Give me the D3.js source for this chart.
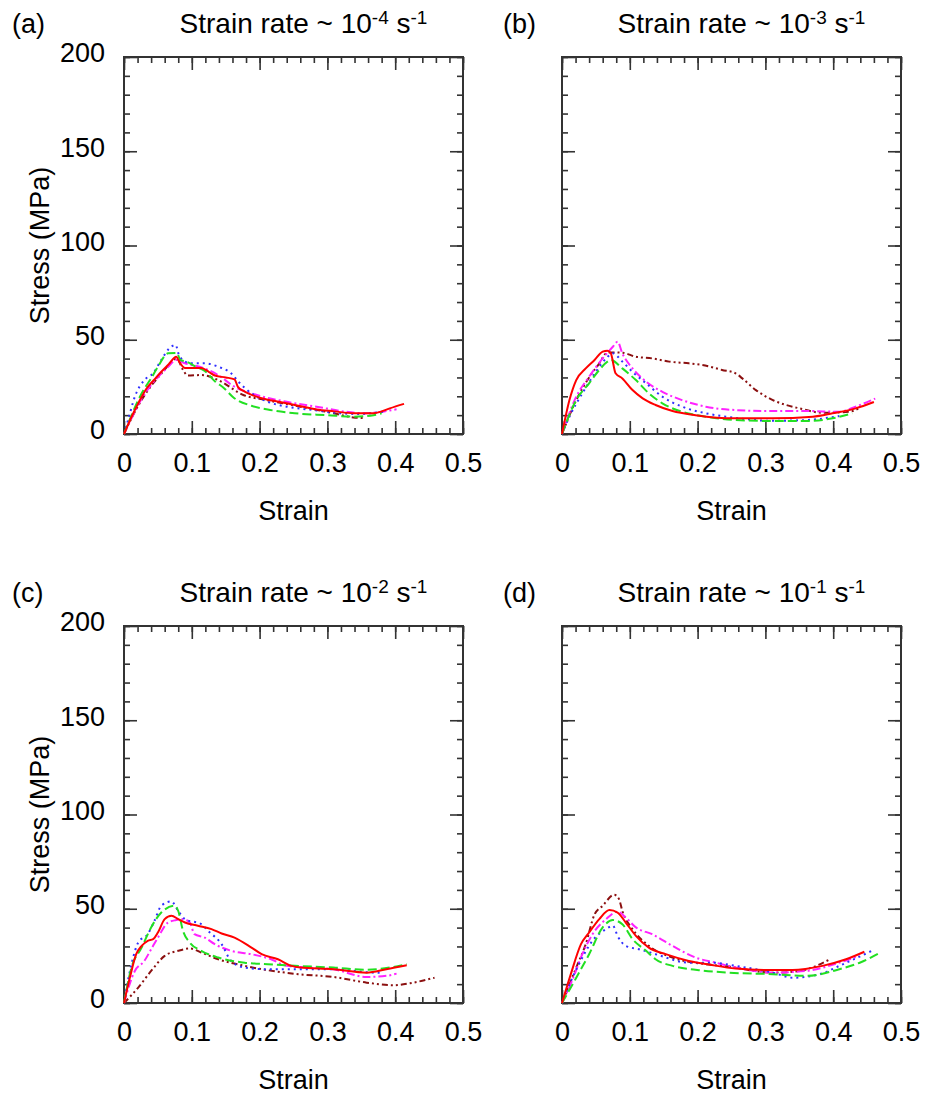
<!DOCTYPE html>
<html>
<head>
<meta charset="utf-8">
<script src="https://cdn.jsdelivr.net/npm/d3@7"></script>
<style>
  body { margin: 0; background: #fff; }
  svg { display: block; }
  text { font-family: "Liberation Sans", Arial, sans-serif; fill: #000; }
</style>
</head>
<body>
<svg id="chart" width="925" height="1095"></svg>
<script>
// ---- data: [strain, stress (MPa)] ----
const panelLabels = ["(a)", "(b)", "(c)", "(d)"];
const rateExponents = ["-4", "-3", "-2", "-1"];
const xTicks = [0, 0.1, 0.2, 0.3, 0.4, 0.5];
const yTicks = [0, 50, 100, 150, 200];

// panel (a) ~1e-4 /s
const aRed = [[0,0],[0.011,9],[0.022,17],[0.033,24],[0.045,29],[0.055,33],[0.066,37],[0.077,41],[0.082,38],[0.09,35],[0.097,35],[0.114,35],[0.125,33],[0.134,31],[0.15,30],[0.163,29],[0.168,25],[0.178,22.5],[0.19,20.5],[0.203,19],[0.23,17],[0.257,15],[0.284,13],[0.31,12],[0.338,11],[0.368,11],[0.38,12],[0.392,13.6],[0.413,16]];
const aGreen = [[0,0],[0.01,9],[0.021,18],[0.03,24],[0.04,29.5],[0.05,35.7],[0.065,42.8],[0.078,43],[0.083,39.3],[0.092,38.4],[0.107,35.5],[0.119,33.5],[0.134,28],[0.148,24.2],[0.161,19.5],[0.188,15],[0.212,13],[0.252,11],[0.3,10],[0.338,9.2],[0.368,10],[0.38,11]];
const aBlue = [[0,0],[0.006,7.4],[0.016,19.8],[0.03,28.6],[0.043,32.2],[0.055,39.3],[0.067,45.5],[0.076,47.2],[0.082,41],[0.099,37.5],[0.119,37.5],[0.139,35.7],[0.158,32.2],[0.171,26.9],[0.188,21.6],[0.212,17.1],[0.24,14.5],[0.279,12.7],[0.319,11],[0.348,10.6],[0.385,12]];
const aMagenta = [[0,0],[0.012,9],[0.025,18],[0.04,26],[0.055,32],[0.066,36],[0.077,39.3],[0.09,37.5],[0.119,34.8],[0.14,31],[0.161,25.5],[0.196,20.7],[0.24,17.1],[0.284,14.5],[0.328,11.8],[0.358,11],[0.38,11.8],[0.402,13.1]];
const aBrown = [[0,0],[0.012,9],[0.025,17.5],[0.04,25.5],[0.055,32],[0.066,36.5],[0.078,40],[0.087,34],[0.094,31],[0.114,31.3],[0.139,28.6],[0.176,20.7],[0.21,18],[0.26,14.5],[0.309,11],[0.338,8.8],[0.355,8.4]];

// panel (b) ~1e-3 /s
const bRed = [[0,0],[0.011,18],[0.021,28.6],[0.035,34.8],[0.048,39.3],[0.06,43.7],[0.067,44.2],[0.072,42.8],[0.079,32.2],[0.089,29.5],[0.104,23.3],[0.119,18.9],[0.138,15.4],[0.163,12.2],[0.197,10],[0.256,8.3],[0.311,8.3],[0.37,9.2],[0.399,11],[0.433,13.6],[0.46,17]];
const bGreen = [[0,0],[0.021,18],[0.04,26.9],[0.055,34],[0.067,38.4],[0.072,39.3],[0.089,34.8],[0.109,28.6],[0.128,21.6],[0.148,16.3],[0.177,11.8],[0.212,9.2],[0.256,7.4],[0.311,6.9],[0.36,6.9],[0.399,8.3],[0.428,11]];
const bBlue = [[0,0],[0.011,9.2],[0.03,21.6],[0.05,33],[0.065,40.1],[0.075,42.8],[0.089,38.4],[0.104,33],[0.124,26.9],[0.148,19.8],[0.177,14.5],[0.212,11],[0.251,8.8],[0.31,7],[0.36,7.4],[0.409,9.5]];
const bMagenta = [[0,0],[0.021,19.8],[0.04,30.4],[0.06,40.1],[0.075,46.3],[0.082,49],[0.089,42.8],[0.104,34.8],[0.124,27.8],[0.148,22.4],[0.177,18],[0.212,14.5],[0.256,12.7],[0.3,12.2],[0.36,12.2],[0.409,11.8],[0.433,14.5],[0.462,18.8]];
const bBrown = [[0,0],[0.021,18],[0.04,30],[0.055,37.5],[0.065,42.8],[0.07,43.3],[0.089,43.1],[0.109,41],[0.133,40.1],[0.158,38.4],[0.187,37.5],[0.207,36.6],[0.236,34],[0.256,32.2],[0.266,29.5],[0.286,23.3],[0.311,18],[0.35,13.6],[0.384,11.3],[0.424,11.8],[0.44,14]];

// panel (c) ~1e-2 /s
const cRed = [[0,0],[0.009,14],[0.018,25.9],[0.026,30.3],[0.035,33],[0.043,33.9],[0.05,37.4],[0.06,44.5],[0.07,46.3],[0.08,44.5],[0.09,42.7],[0.109,41],[0.129,39.2],[0.144,36.9],[0.163,34.7],[0.188,29.4],[0.203,25.9],[0.227,23.2],[0.247,19.7],[0.26,18.8],[0.309,17.9],[0.358,16.1],[0.387,17.9],[0.417,20]];
const cGreen = [[0,0],[0.011,18.8],[0.026,29.4],[0.04,40.1],[0.055,48],[0.075,51.6],[0.08,48.8],[0.087,38.3],[0.097,32.1],[0.114,27.7],[0.139,24.1],[0.178,21.4],[0.212,20.6],[0.252,19.7],[0.309,18.8],[0.358,17.6],[0.392,18.8],[0.417,20.6]];
const cBlue = [[0,0],[0.011,20.6],[0.021,32.1],[0.035,36.5],[0.045,43.6],[0.055,51.6],[0.07,53.9],[0.08,48.8],[0.09,44.5],[0.114,41.8],[0.124,38.3],[0.144,31.2],[0.158,22.3],[0.178,18.8],[0.212,17.9],[0.25,17.9],[0.309,17.9],[0.368,16.1],[0.38,16]];
const cMagenta = [[0,0],[0.016,17],[0.03,22.3],[0.04,28.5],[0.05,34.7],[0.065,42.7],[0.077,44],[0.087,44.5],[0.097,42.7],[0.104,36.5],[0.119,34.7],[0.134,31.2],[0.158,27.7],[0.188,25.9],[0.217,23.2],[0.24,19.7],[0.309,17.9],[0.358,13.8],[0.387,14.4],[0.402,15.6]];
const cBrown = [[0,0],[0.021,8.2],[0.04,17],[0.06,25],[0.08,27.7],[0.097,28.9],[0.114,26.8],[0.139,23.2],[0.178,19.7],[0.212,17.4],[0.257,15.3],[0.309,13.8],[0.358,10.8],[0.397,9.4],[0.422,10.5],[0.458,13.4]];

// panel (d) ~1e-1 /s
const dRed = [[0,0],[0.013,15.3],[0.028,31.2],[0.04,37.4],[0.055,44.5],[0.07,49.3],[0.082,48],[0.094,42.7],[0.109,35.6],[0.128,29.4],[0.153,25.9],[0.187,22.3],[0.217,20.4],[0.256,18.3],[0.311,17.5],[0.34,17.5],[0.384,19.7],[0.419,23.2],[0.446,27.2]];
const dGreen = [[0,0],[0.021,13.4],[0.04,25.9],[0.06,40.1],[0.075,44],[0.089,41.8],[0.104,33.9],[0.124,27.7],[0.138,23.2],[0.163,19.7],[0.202,17.4],[0.246,16.1],[0.311,15.3],[0.36,14.4],[0.409,17.9],[0.44,21.5],[0.47,26.8]];
const dBlue = [[0,0],[0.011,9.9],[0.025,20.6],[0.045,33],[0.065,39.2],[0.075,41],[0.082,35.6],[0.094,30.3],[0.114,28.5],[0.138,25.9],[0.187,21.4],[0.222,21.4],[0.256,19.7],[0.311,16.1],[0.34,13.4],[0.38,15.3],[0.409,19.7],[0.46,28.2]];
const dMagenta = [[0,0],[0.015,12],[0.03,25.9],[0.045,36.5],[0.065,44.5],[0.082,48.5],[0.094,45.4],[0.109,40.1],[0.133,36.5],[0.163,30.3],[0.197,24.1],[0.226,21.4],[0.262,18.4],[0.311,16.1],[0.36,17],[0.409,21.4],[0.438,25]];
const dBrown = [[0,0],[0.021,18.8],[0.035,31.2],[0.048,47],[0.06,51.6],[0.077,57.4],[0.084,55.2],[0.089,48.8],[0.104,39.2],[0.128,30.3],[0.163,24.1],[0.212,20.6],[0.242,19.5],[0.311,16.1],[0.35,17],[0.375,19.7],[0.394,23]];

const panelSeries = [
  [aBrown, aMagenta, aBlue, aGreen, aRed],
  [bBrown, bMagenta, bBlue, bGreen, bRed],
  [cBrown, cMagenta, cBlue, cGreen, cRed],
  [dBrown, dMagenta, dBlue, dGreen, dRed]
];

// ---- styles (same order as panelSeries rows) ----
const lineStyles = [
  { color: "#8b1010", dash: "6,3,2,3,2,3" },
  { color: "#ff22ff", dash: "8,3,2,3" },
  { color: "#2f2fff", dash: "2,4" },
  { color: "#22e022", dash: "9,4" },
  { color: "#ff0000", dash: null }
];

const svg = d3.select("#chart");
const pw = 339, ph = 377;
const lefts = [124, 562], tops = [57, 626];
const labelX = [12, 503];

panelSeries.forEach(function(series, i) {
  let col = i % 2, row = Math.floor(i / 2);
  let g = svg.append("g").attr("transform", `translate(${lefts[col]},${tops[row]})`);

  let x = d3.scaleLinear().domain([0, 0.5]).range([0, pw]);
  let y = d3.scaleLinear().domain([0, 200]).range([ph, 0]);

  // minor ticks
  let minorX = d3.range(0, 0.5001, 0.02);
  let minorY = d3.range(0, 200.1, 10);
  let addAxis = function(axis, tr) {
    let a = g.append("g").attr("transform", tr).call(axis);
    a.select(".domain").remove();
    a.selectAll("line").attr("stroke", "#333").attr("stroke-width", 1.6);
    return a;
  };
  addAxis(d3.axisBottom(x).tickValues(minorX).tickSize(-6).tickFormat(""), `translate(0,${ph})`);
  addAxis(d3.axisTop(x).tickValues(minorX).tickSize(-6).tickFormat(""), "translate(0,0)");
  addAxis(d3.axisLeft(y).tickValues(minorY).tickSize(-6).tickFormat(""), "translate(0,0)");
  addAxis(d3.axisRight(y).tickValues(minorY).tickSize(-6).tickFormat(""), `translate(${pw},0)`);

  // major ticks
  let bx = addAxis(d3.axisBottom(x).tickValues(xTicks).tickSize(-13).tickPadding(19).tickFormat(d3.format("")), `translate(0,${ph})`);
  bx.selectAll("text").attr("font-size", 27).attr("fill", "#000");
  addAxis(d3.axisTop(x).tickValues(xTicks).tickSize(-13).tickFormat(""), "translate(0,0)");
  let ly = addAxis(d3.axisLeft(y).tickValues(yTicks).tickSize(-13).tickPadding(19)
    .tickFormat(col === 0 ? d3.format("") : ""), "translate(0,0)");
  ly.selectAll("text").attr("font-size", 27).attr("fill", "#000").attr("dy", "0.18em");
  addAxis(d3.axisRight(y).tickValues(yTicks).tickSize(-13).tickFormat(""), `translate(${pw},0)`);

  // frame
  g.append("rect").attr("width", pw).attr("height", ph)
    .attr("fill", "none").attr("stroke", "#333").attr("stroke-width", 2);

  // curves
  let line = d3.line().x(d => x(d[0])).y(d => y(d[1])).curve(d3.curveMonotoneX);
  series.forEach(function(s, k) {
    g.append("path").datum(s).attr("d", line)
      .attr("fill", "none")
      .attr("stroke", lineStyles[k].color)
      .attr("stroke-width", 2)
      .attr("stroke-dasharray", lineStyles[k].dash);
  });

  // titles
  let t = g.append("text").attr("x", pw / 2 + 10).attr("y", -24)
    .attr("text-anchor", "middle").attr("font-size", 28);
  t.append("tspan").text("Strain rate ~ 10");
  t.append("tspan").attr("font-size", 19).attr("dy", -9).text(rateExponents[i]);
  t.append("tspan").attr("dy", 9).text(" s");
  t.append("tspan").attr("font-size", 19).attr("dy", -9).text("-1");

  g.append("text").attr("x", labelX[col] - lefts[col]).attr("y", -24)
    .attr("font-size", 27).text(panelLabels[i]);

  g.append("text").attr("x", pw / 2).attr("y", ph + 86)
    .attr("text-anchor", "middle").attr("font-size", 27).text("Strain");

  if (col === 0) {
    g.append("text").attr("transform", `translate(${49 - lefts[col]},${ph / 2}) rotate(-90)`)
      .attr("text-anchor", "middle").attr("font-size", 27).text("Stress (MPa)");
  }
});
</script>
</body>
</html>
